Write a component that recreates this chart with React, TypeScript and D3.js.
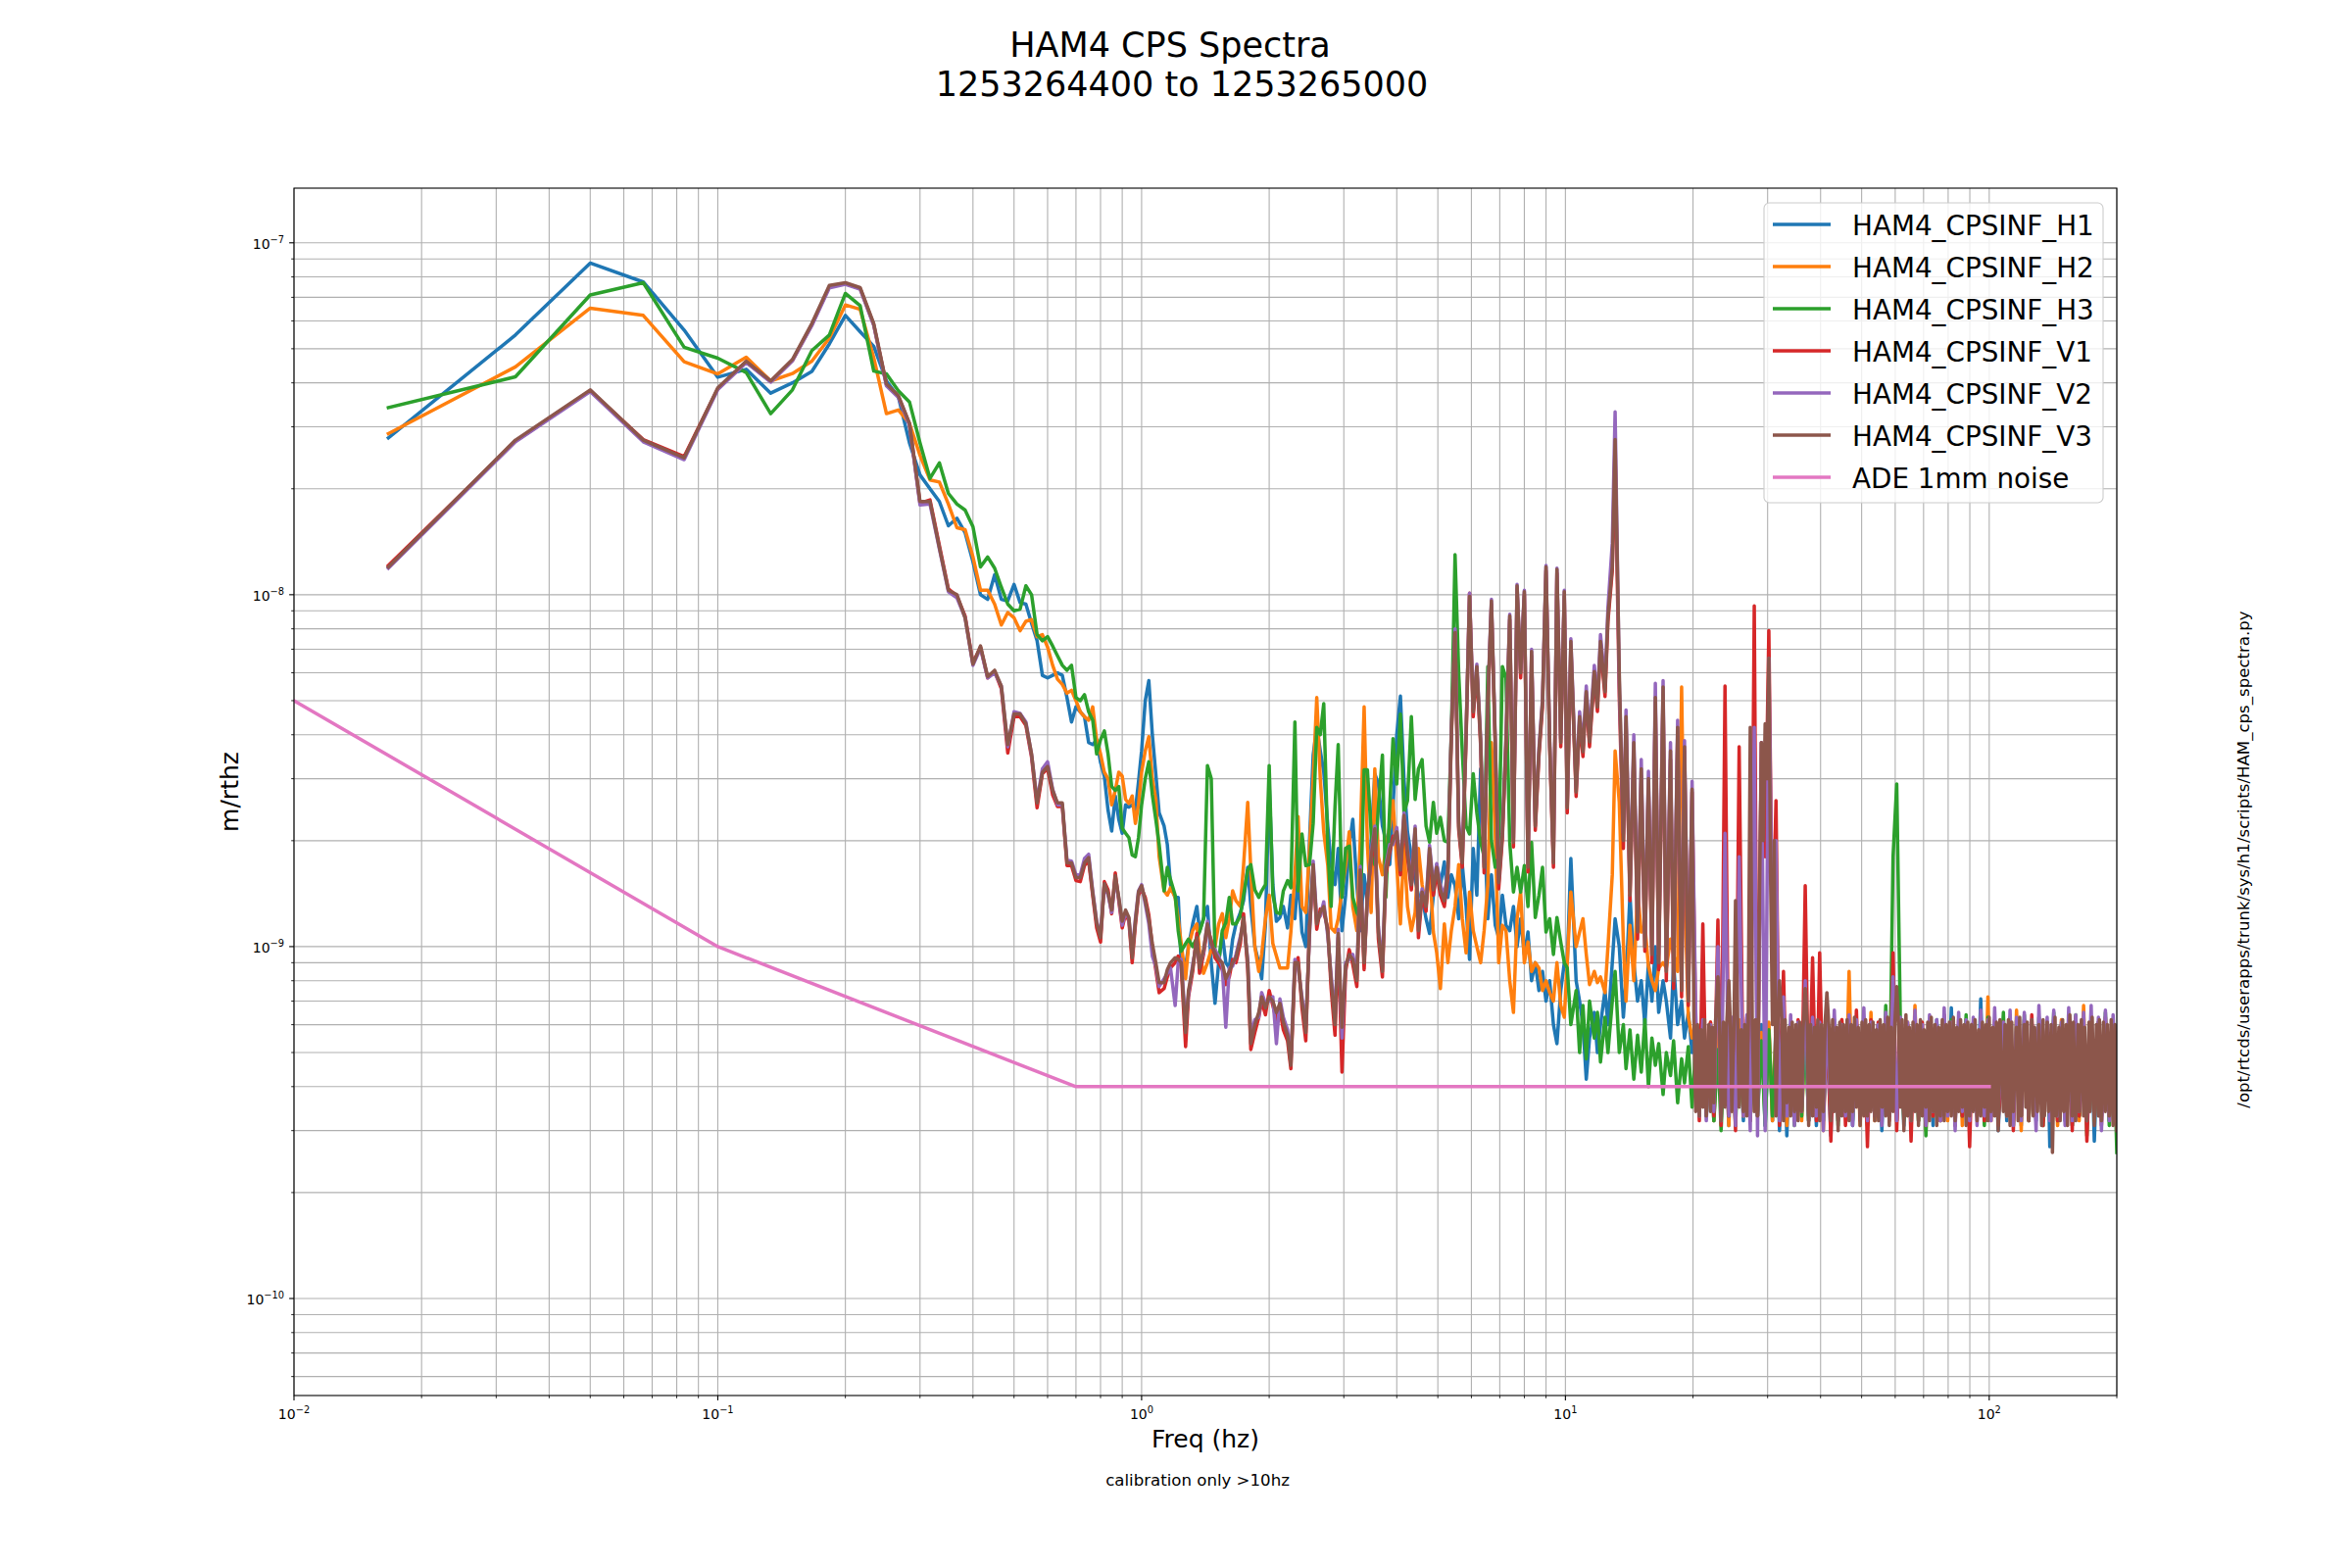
import React from 'react';
import * as d3 from 'd3';

// All spectral values below are listed in units of 1e-10 m/rtHz.
const UNIT = 1e-10;

// Frequency bins (Hz): low band on the 1/60 Hz grid, high band decimated (log-spaced).
const F_LO = [
  0.0167, 0.0333, 0.05, 0.0667, 0.0833, 0.1, 0.1167, 0.1333, 0.15, 0.1667,
  0.1833, 0.2, 0.2167, 0.2333, 0.25, 0.2667, 0.2833, 0.3, 0.3167, 0.3333,
  0.35, 0.3667, 0.3833, 0.4, 0.4167, 0.4333, 0.45, 0.4667, 0.4833, 0.5,
  0.5167, 0.5333, 0.55, 0.5667, 0.5833, 0.6, 0.6167, 0.6333, 0.65, 0.6667,
  0.6833, 0.7, 0.7167, 0.7333, 0.75, 0.7667, 0.7833, 0.8, 0.8167, 0.8333,
  0.85, 0.8667, 0.8833, 0.9, 0.9167, 0.9333, 0.95, 0.9667, 0.9833, 1.0,
];

const F_HI = [
  1.02, 1.04, 1.06, 1.08, 1.10, 1.13, 1.15, 1.17, 1.20, 1.22,
  1.24, 1.27, 1.29, 1.32, 1.35, 1.37, 1.40, 1.43, 1.46, 1.49,
  1.52, 1.55, 1.58, 1.61, 1.64, 1.67, 1.71, 1.74, 1.78, 1.81,
  1.85, 1.89, 1.92, 1.96, 2.00, 2.04, 2.08, 2.12, 2.16, 2.21,
  2.25, 2.30, 2.34, 2.39, 2.44, 2.49, 2.54, 2.59, 2.64, 2.69,
  2.75, 2.80, 2.86, 2.91, 2.97, 3.03, 3.09, 3.15, 3.22, 3.28,
  3.35, 3.41, 3.48, 3.55, 3.62, 3.70, 3.77, 3.85, 3.92, 4.00,
  4.08, 4.16, 4.24, 4.33, 4.42, 4.50, 4.59, 4.69, 4.78, 4.88,
  4.97, 5.07, 5.18, 5.28, 5.38, 5.49, 5.60, 5.71, 5.83, 5.94,
  6.06, 6.18, 6.31, 6.43, 6.56, 6.69, 6.83, 6.96, 7.10, 7.24,
  7.39, 7.54, 7.69, 7.84, 8.00, 8.16, 8.32, 8.49, 8.66, 8.83,
  9.00, 9.18, 9.37, 9.55, 9.75, 9.94, 10.1, 10.3, 10.6, 10.8,
  11.0, 11.2, 11.4, 11.7, 11.9, 12.1, 12.4, 12.6, 12.9, 13.1,
  13.4, 13.7, 13.9, 14.2, 14.5, 14.8, 15.1, 15.4, 15.7, 16.0,
  16.3, 16.6, 17.0, 17.3, 17.7, 18.0, 18.4, 18.8, 19.1, 19.5,
  19.9, 20.3, 20.7, 21.1, 21.5, 22.0, 22.4, 22.9, 23.3, 23.8,
  24.3, 24.7, 25.2, 25.7, 26.3, 26.8, 27.3, 27.9, 28.4, 29.0,
  29.6, 30.2, 30.8, 31.4, 32.0, 32.7, 33.3, 34.0, 34.7, 35.4,
  36.1, 36.8, 37.5, 38.3, 39.1, 39.8, 40.6, 41.4, 42.3, 43.1,
  44.0, 44.9, 45.8, 46.7, 47.6, 48.6, 49.6, 50.6, 51.6, 52.6,
  53.7, 54.7, 55.8, 57.0, 58.1, 59.3, 60.5, 61.7, 62.9, 64.2,
  65.4, 66.8, 68.1, 69.5, 70.9, 72.3, 73.7, 75.2, 76.7, 78.3,
  79.8, 81.4, 83.1, 84.7, 86.4, 88.2, 89.9, 91.7, 93.6, 95.5,
  97.4, 99.3, 101, 103, 105, 108, 110, 112, 114, 116,
  119, 121, 124, 126, 129, 131, 134, 137, 139, 142,
  145, 148, 151, 154, 157, 160, 163, 167, 170, 174,
  177, 181, 184, 188, 192, 196, 200,
];

// Finer bins (Hz) used for the V3 trace above 20 Hz, where its noise floor is densest.
const F_V3_BAND = [
  20.1, 20.3, 20.5, 20.7, 20.9, 21.1, 21.3, 21.5, 21.8, 22.0,
  22.2, 22.4, 22.6, 22.9, 23.1, 23.3, 23.6, 23.8, 24.0, 24.3,
  24.5, 24.7, 25.0, 25.2, 25.5, 25.7, 26.0, 26.3, 26.5, 26.8,
  27.0, 27.3, 27.6, 27.9, 28.1, 28.4, 28.7, 29.0, 29.3, 29.6,
  29.9, 30.2, 30.5, 30.8, 31.1, 31.4, 31.7, 32.0, 32.4, 32.7,
  33.0, 33.3, 33.7, 34.0, 34.3, 34.7, 35.0, 35.4, 35.7, 36.1,
  36.4, 36.8, 37.2, 37.5, 37.9, 38.3, 38.7, 39.1, 39.4, 39.8,
  40.2, 40.6, 41.0, 41.4, 41.9, 42.3, 42.7, 43.1, 43.6, 44.0,
  44.4, 44.9, 45.3, 45.8, 46.2, 46.7, 47.2, 47.6, 48.1, 48.6,
  49.1, 49.6, 50.1, 50.6, 51.1, 51.6, 52.1, 52.6, 53.2, 53.7,
  54.2, 54.8, 55.3, 55.9, 56.4, 57.0, 57.6, 58.1, 58.7, 59.3,
  59.9, 60.5, 61.1, 61.7, 62.3, 62.9, 63.6, 64.2, 64.8, 65.5,
  66.1, 66.8, 67.5, 68.1, 68.8, 69.5, 70.2, 70.9, 71.6, 72.3,
  73.0, 73.8, 74.5, 75.2, 76.0, 76.7, 77.5, 78.3, 79.1, 79.8,
  80.6, 81.4, 82.3, 83.1, 83.9, 84.7, 85.6, 86.4, 87.3, 88.2,
  89.0, 89.9, 90.8, 91.7, 92.6, 93.6, 94.5, 95.5, 96.4, 97.4,
  98.3, 99.3, 100, 101, 102, 103, 104, 105, 106, 108,
  109, 110, 111, 112, 113, 114, 116, 117, 118, 119,
  121, 122, 123, 124, 126, 127, 128, 130, 131, 133,
  134, 135, 137, 138, 140, 141, 143, 144, 146, 147,
  149, 150, 152, 153, 155, 157, 158, 160, 162, 163,
  165, 167, 168, 170, 172, 173, 175, 177, 179, 181,
  182, 184, 186, 188, 190, 192, 194, 196, 198, 200,
];

// ---------- HAM4_CPSINF_H1 ----------
const H1_LO = [
  279, 547, 876, 774, 565, 415, 437, 374, 400, 431,
  516, 622, 559, 508, 405, 365, 270, 219, 200, 184,
  157, 165, 150, 124, 100, 97, 114, 97, 96, 107,
  95, 94, 83, 74, 59, 58, 59, 60, 59, 51,
  43.5, 48, 46.5, 45, 38, 37.5, 38.7, 33.4, 30.5, 24.4,
  21.3, 26.8, 23, 21, 25.3, 24.9, 25.3, 24.4, 29.4, 36,
];
const H1_HI = [
  50, 57, 40, 31, 24, 22, 19.5, 15, 13.8, 13.8,
  9, 8.8, 10, 11.6, 13, 11.1, 12, 13, 9, 6.9,
  9, 10.9, 9, 8.7, 10.5, 11.6, 12.5, 13.5, 16.8, 13,
  10, 9, 8.1, 11.6, 29, 15, 11.8, 12.1, 13, 11.3,
  14, 12, 16, 11, 10, 20, 35, 42, 36, 31.4,
  22, 17.1, 15, 19, 11.1, 14, 19.3, 23, 15, 11.1,
  16, 13.2, 20, 31, 29, 22, 20, 17.1, 25, 40,
  51.5, 30, 21.2, 18, 15.4, 14,
  13.8, 12, 10.9, 14, 17.1, 15, 17.4, 13.8, 16, 14.9,
  12, 17.1, 13, 9.2, 19, 14, 32, 23.6, 12, 16,
  11.5, 10.6, 14, 11.5, 11.1, 13, 10, 12, 9.5, 11,
  8, 9, 7.5, 8.5, 7, 8, 6, 5.3, 7.5, 9,
  9, 17.8, 8, 7, 6, 4.2, 5.5, 6.5, 5, 6,
  7.5, 6, 9, 12, 10, 6.3, 8, 14, 9, 7,
  8, 6, 9, 7, 10, 6.5, 8, 7, 5.5, 9,
  6, 7, 5.5, 6.5, 5,
  5.8, 3.5, 6.0, 3.3, 5.6, 3.2, 6.1, 3.4, 5.9, 3.1,
  6.0, 3.3, 5.7, 3.2, 6.2, 3.4, 5.8, 3.3, 6.0, 3.1,
  5.9, 3.2, 6.1, 3.0, 5.8, 2.9, 6.0, 3.3, 5.7, 3.4,
  6.1, 3.2, 5.9, 3.1, 6.0, 3.3, 5.8, 2.9, 6.2, 3.2,
  5.9, 3.4, 6.0, 3.1, 5.8, 3.3, 6.1, 3.2, 5.9, 3.4,
  6.0, 3.0, 5.8, 3.3, 6.4, 3.2, 6.0, 3.1, 5.9, 3.3,
  6.1, 3.2, 5.8, 3.4, 6.0, 3.1, 6.2, 3.3, 5.9, 3.4,
  6.7, 3.2, 5.8, 3.3, 6.1, 3.1, 5.9, 3.4, 7.1, 3.2,
  6.0, 3.3, 5.9, 3.0, 6.1, 3.2, 5.8, 3.4, 6.0, 3.1,
  6.2, 3.3, 5.9, 3.2, 6.0, 3.4, 5.8, 2.7, 6.1, 3.3,
  5.9, 3.2, 6.0, 3.1, 6.2, 3.3, 5.8, 3.2, 6.0, 2.8,
  6.1, 3.3, 5.9, 3.2, 6.0, 3.1,
];

// ---------- HAM4_CPSINF_H2 ----------
const H2_LO = [
  287, 444, 652, 622, 459, 424, 473, 405, 425, 461,
  536, 666, 647, 472, 327, 335, 307, 249, 212, 209,
  181, 155, 153, 128, 103, 103, 94, 82, 89, 86,
  79, 84, 85, 76, 77, 71, 63, 57.5, 55.6, 52.5,
  53.5, 50, 46.5, 45, 44, 48, 38.7, 35.3, 31.3, 30,
  25.3, 27.8, 31.3, 30.5, 26.2, 25.5, 26.8, 22.4, 25.3, 31.3,
];
const H2_HI = [
  36, 39.5, 30, 26.2, 18, 14.4, 14, 14.7, 13.8, 12,
  10.2, 8.1, 10, 11.1, 11.6, 9.6, 8.4, 9, 9.8, 10,
  11.6, 12.4, 10.6, 12, 14.4, 13.5, 13, 17, 25.7, 16.5,
  10, 8.5, 9.5, 12, 14, 10.2, 9.4, 8.7, 8.7, 8.7,
  11, 16, 23.4, 13, 12.5, 19, 30, 51, 30, 21.2,
  17, 11.3, 11, 12, 14.5, 17, 21.2, 13, 11.1, 20,
  48, 19.5, 12.5, 32, 18, 16, 19, 22, 26, 17.1,
  11.6, 19.5, 13, 11.1, 12.5, 19,
  15, 13, 17, 11, 9.6, 7.6, 11.6, 9, 11.1, 13,
  17.1, 12, 9.6, 14.3, 11.1, 10, 9, 11.1, 15, 38,
  21.2, 9, 11.5, 11.1, 8, 6.5, 12, 14.3, 9, 10.3,
  8.5, 9, 8.7, 7.5, 8, 7.4, 7, 9, 6.8, 6.3,
  9, 14.3, 10, 11, 12, 9.5, 7.8, 8.5, 7.9, 8.2,
  7.4, 10, 16, 36, 25.7, 10.3, 7, 11.5, 8, 14.3,
  11, 11.5, 8.8, 8, 7.5, 8.7, 9, 8.7, 10.5, 9.5,
  8.5, 54.7, 15, 6.3, 5.5,
  6.0, 3.3, 5.8, 3.4, 6.1, 3.2, 5.9, 3.3, 6.0, 3.1,
  5.8, 3.4, 6.2, 3.3, 5.9, 3.2, 6.0, 3.4, 5.7, 3.3,
  6.1, 3.2, 5.9, 3.4, 6.3, 3.1, 5.8, 3.3, 6.0, 3.2,
  5.9, 3.4, 6.1, 3.3, 5.8, 3.0, 6.0, 3.3, 5.9, 3.2,
  6.2, 3.4, 8.5, 3.3, 5.9, 3.1, 6.0, 3.3, 6.5, 3.2,
  5.9, 3.4, 6.1, 3.3, 6.0, 3.2, 5.8, 3.4, 6.1, 3.3,
  6.8, 3.2, 5.9, 3.0, 6.0, 3.3, 5.8, 3.4, 6.1, 3.2,
  6.0, 3.3, 5.9, 3.1, 6.2, 3.4, 5.8, 3.3, 6.0, 3.2,
  7.2, 3.2, 6.1, 3.4, 5.8, 3.3, 6.0, 3.2, 6.6, 3.0,
  5.9, 3.3, 6.1, 3.4, 5.8, 3.2, 6.0, 3.3, 5.9, 3.1,
  6.2, 3.3, 5.8, 3.4, 6.0, 3.2, 6.8, 3.3, 6.1, 3.2,
  5.8, 3.4, 6.0, 3.3, 5.9, 3.2,
];

// ---------- HAM4_CPSINF_H3 ----------
const H3_LO = [
  340, 416, 711, 770, 505, 470, 428, 327, 382, 494,
  547, 718, 663, 432, 424, 380, 353, 270, 214, 237,
  194, 181, 174, 156, 120, 128, 119, 105, 94, 90,
  91, 106, 100, 77, 74, 76, 71.5, 67, 63, 61,
  63, 51, 50, 52, 46.5, 44, 35.3, 38.7, 41, 35.3,
  28.5, 27.8, 28.5, 21.7, 21, 20.4, 18.2, 18, 20.4, 25.3,
];
const H3_HI = [
  30, 33.5, 27, 23, 19.5, 14.4, 16.8, 15.5, 14, 11.1,
  9.7, 10.2, 10.5, 10, 10.6, 11, 12, 32.7, 30, 9.5,
  9, 11.1, 11.7, 13.8, 11.6, 11.6, 12.2, 14, 16.5, 17.1,
  14.5, 13.8, 14.4, 15, 32.7, 14, 12.5, 12.4, 14.4, 15.4,
  14.7, 43.5, 14.4, 20.9, 17, 17.1, 22.4, 42, 40, 49,
  19, 13, 25, 37.5, 13.8, 19, 19.3, 13.8, 12.5, 12,
  31.8, 31.8, 21.2, 17.1, 25, 35, 13.8, 25, 39, 29,
  45.8, 24, 26, 45, 26.2, 32,
  34, 22, 19.8, 25.7, 21, 23.3, 20, 19.8, 40, 130,
  60, 35.8, 22, 20.9, 31, 24, 19.8, 18, 62.5, 20,
  16.8, 18, 62.5, 58, 19.8, 14.3, 16.8, 14.3, 17, 13,
  19.8, 12.1, 14, 16.8, 11, 12, 9.5, 12.1, 10.3, 9,
  8.7, 6, 7.5, 5, 6.8, 4.8, 7, 5.5, 6.5, 4.7,
  6.3, 5, 7, 8.5, 5, 6, 4.5, 5.8, 4.2, 5.6,
  4.4, 6.2, 4, 5.5, 4.6, 5.3, 3.8, 5, 4.3, 5.4,
  3.6, 4.8, 4.1, 5.2, 3.5,
  5.2, 3.4, 5.0, 3.3, 5.4, 3.2, 5.1, 3.0, 5.5, 3.3,
  5.2, 3.1, 5.6, 3.4, 5.3, 3.2, 5.7, 3.3, 5.4, 3.1,
  5.8, 3.3, 5.5, 3.2, 5.9, 3.4, 5.6, 3.1, 6.0, 3.3,
  5.8, 3.2, 6.1, 3.4, 6.4, 3.2, 5.9, 3.3, 6.1, 3.1,
  5.8, 3.4, 6.0, 3.2, 5.9, 3.3, 6.2, 3.1, 5.8, 3.4,
  6.0, 3.3, 6.8, 3.3, 18, 29, 6.1, 3.2, 5.9, 3.4,
  6.0, 3.2, 5.8, 2.9, 6.1, 3.3, 6.0, 3.2, 5.9, 3.4,
  6.2, 3.1, 6.0, 3.3, 6.4, 3.2, 5.9, 3.4, 6.1, 3.1,
  6.3, 3.3, 6.0, 3.2, 6.5, 3.4, 5.9, 3.1, 6.2, 3.3,
  6.4, 3.2, 6.0, 3.4, 6.3, 3.1, 6.1, 3.3, 6.5, 3.2,
  6.0, 3.4, 6.2, 3.1, 6.4, 3.3, 6.0, 2.9, 6.3, 3.2,
  6.1, 3.3, 6.5, 3.1, 6.2, 2.6,
];

// ---------- HAM4_CPSINF_V1 ----------
const V1_LO = [
  121, 273, 380, 276, 247, 385, 458, 404, 463, 585,
  750, 765, 742, 585, 395, 366, 305, 182, 186, 138,
  104, 99, 87, 64, 71, 58, 60.5, 54, 35.5, 45,
  45, 42.5, 34.5, 24.8, 31, 32, 27, 25, 25, 17,
  17, 15.4, 15.3, 17, 17.5, 14, 11.3, 10.3, 15.3, 14.5,
  12.4, 16.2, 13.5, 11.3, 12.4, 11.8, 9.0, 11.5, 14.0, 14.6,
];
const V1_HI = [
  13.8, 12.3, 10, 8.6, 7.4, 7.6, 8.2, 8.7, 9, 9.4,
  8.8, 5.2, 7.2, 8.5, 10.9, 8.4, 9.5, 11.3, 10.4, 9.3,
  9, 8.6, 7.8, 8.2, 9.2, 9, 10.2, 12.4, 8.6, 5.1,
  5.7, 6.3, 7, 6.4, 7.5, 6.8, 6.2, 6.6, 5.8, 5.4,
  4.5, 8.7, 9.3, 6.7, 5.4, 11.4, 16.5, 11.2, 12.8, 12.5,
  11.3, 7.6, 5.6, 10.6, 4.4, 8.5, 9.8, 8.9, 7.7, 16,
  8.6, 14.2, 17.4, 21, 10.5, 8.2, 16, 18.5, 20.6, 20.5,
  16, 23, 18, 14.5, 21, 10.6,
  14, 12.6, 18.4, 14, 16.2, 14, 13, 15.8, 39, 79,
  21.5, 16.8, 39, 101, 45, 61, 37, 16.2, 48, 94,
  37, 14.6, 20.3, 37, 85, 19.2, 104, 58, 100, 16.3,
  67, 21.4, 34.7, 48, 117, 37, 16.8, 115, 37, 99,
  24, 71, 26.7, 43.6, 34.7, 51.4, 37, 58.7, 46.6, 71.5,
  51.4, 84, 117, 250, 51.4, 19, 43, 13.5, 36, 10.5,
  30.5, 9.7, 28.5, 9, 49.5, 8.6, 52, 8, 34, 7.6,
  40, 7.2, 35.9, 6.8, 27.5,
  5.9, 3.2, 11.6, 3.4, 6.1, 3.3, 11.9, 3.1, 55, 3.3,
  6.2, 3.0, 37, 3.4, 6.3, 3.2, 93, 3.3, 38, 18,
  79, 10, 26, 3.1, 8.5, 3.4, 6.0, 3.2, 6.2, 3.5,
  14.9, 3.3, 9.3, 3.2, 9.6, 3.4, 6.3, 2.8, 6.0, 3.3,
  6.2, 3.1, 5.9, 3.4, 6.6, 3.2, 6.0, 2.7, 6.2, 3.3,
  6.1, 3.4, 6.3, 3.2, 9.6, 3.0, 6.2, 3.3, 6.0, 2.8,
  6.3, 3.4, 6.1, 3.1, 6.2, 3.3, 6.0, 3.2, 6.4, 3.4,
  5.9, 3.1, 6.2, 3.3, 6.0, 2.7, 6.1, 3.4, 6.3, 3.2,
  6.0, 3.3, 6.2, 3.1, 6.1, 3.4, 6.3, 3.0, 5.9, 3.3,
  6.2, 3.2, 6.4, 3.4, 6.0, 3.1, 6.1, 3.3, 6.2, 3.2,
  6.0, 3.4, 6.1, 3.0, 6.3, 3.3, 6.0, 2.8, 6.2, 3.4,
  6.1, 3.1, 6.3, 3.3, 6.0, 3.2,
];

// ---------- HAM4_CPSINF_V2 ----------
const V2_LO = [
  119, 272, 378, 272, 242, 383, 457, 402, 462, 582,
  745, 762, 738, 583, 392, 364, 303, 180, 181, 135,
  102, 98, 86, 63, 70.5, 58, 60, 55, 37, 46.5,
  46, 43.5, 35, 26, 32, 33.5, 28, 25.3, 25.3, 17.6,
  17.5, 16, 16, 17.8, 18.3, 14.4, 11.8, 10.8, 15, 14,
  12.5, 15.6, 13.7, 11.5, 12.5, 12, 9.6, 12, 14.4, 15,
];
const V2_HI = [
  13.2, 11.6, 9.4, 8.8, 7.7, 8.1, 8.4, 8.7, 6.8, 9,
  9.2, 6, 7.3, 8.9, 10.3, 8.9, 9.6, 11.8, 10, 9.8,
  9.4, 8.8, 5.9, 8.7, 8.8, 9.5, 10.7, 11.8, 9.2, 5.6,
  6.2, 6.3, 7.4, 6.9, 7, 7.2, 5.3, 7.1, 6.3, 5.8,
  4.8, 9.2, 8.7, 7.2, 6, 10.8, 17.5, 11.9, 12.2, 13.4,
  10.7, 8.3, 6.3, 11.2, 5.5, 9, 9.2, 9.5, 8.3, 16.9,
  9.3, 13.4, 18.5, 22, 11.4, 8.8, 17, 19.5, 19.5, 21.8,
  17, 24, 19, 15.5, 22, 11.5,
  14.6, 13.4, 19.4, 15, 17.2, 15, 13.9, 16.7, 41, 80,
  22.6, 17.8, 41, 101, 47.5, 63.5, 39, 17.3, 50.5, 97,
  39, 15.6, 21.4, 39, 88, 20.3, 107, 61, 103, 17.3,
  70, 22.6, 36.6, 50.5, 121, 39, 17.8, 119, 39, 103,
  25.5, 75, 28.3, 46.5, 37, 55, 40, 63, 50, 77,
  56, 92, 140, 331, 56, 21, 47, 14.7, 40, 11.5,
  34, 10.5, 31.5, 10, 56, 9.5, 57, 9, 38, 8.5,
  44, 8, 38.5, 7.5, 29.5,
  6.5, 3.3, 6.2, 3.2, 6.0, 3.4, 10, 3.2, 21, 3.3,
  6.3, 3.1, 18, 3.3, 6.4, 3.0, 42, 2.9, 38, 3.0,
  66, 10, 20, 3.2, 7.2, 3.3, 6.4, 3.1, 6.1, 3.4,
  8.0, 3.2, 6.3, 3.3, 6.1, 3.0, 6.2, 3.4, 6.6, 3.2,
  6.0, 3.3, 6.4, 3.1, 6.2, 3.4, 6.7, 3.2, 6.1, 3.3,
  6.0, 3.1, 6.5, 3.3, 8.2, 3.2, 6.3, 3.4, 6.1, 3.2,
  6.6, 3.3, 6.0, 3.1, 6.4, 3.4, 6.2, 3.2, 6.7, 3.3,
  6.1, 3.0, 6.5, 3.4, 6.2, 3.2, 6.3, 3.1, 6.6, 3.3,
  6.2, 3.2, 6.7, 3.4, 6.1, 3.3, 6.6, 3.1, 6.3, 3.2,
  6.5, 3.3, 6.2, 3.0, 6.8, 3.4, 6.3, 3.2, 6.6, 3.3,
  6.1, 3.1, 6.7, 3.2, 6.4, 3.4, 6.5, 3.2, 6.8, 3.3,
  6.3, 3.0, 6.6, 3.2, 6.4, 3.3,
];

// ---------- HAM4_CPSINF_V3 ----------
const V3_LO = [
  120, 275, 382, 275, 245, 387, 461, 405, 466, 590,
  757, 770, 746, 590, 397, 368, 307, 184, 184, 136,
  103, 100, 86, 63.5, 71.5, 58.5, 61, 55, 37.5, 45.8,
  45.8, 43, 35.3, 25.6, 31.3, 32.5, 27.8, 25.6, 25.6, 17.3,
  17.3, 15.7, 15.7, 17.3, 17.9, 14.2, 11.7, 10.6, 15.1, 14.2,
  12.7, 15.9, 13.8, 11.8, 12.7, 12.1, 9.3, 11.8, 14.3, 14.9,
];
// V3 on F_HI up to 19.9 Hz
const V3_HI = [
  13.5, 12, 10.2, 9, 7.9, 7.9, 8.6, 9, 9.3, 9.2,
  9, 5.7, 7.5, 8.7, 10.6, 8.7, 9.8, 11.6, 10.2, 9.6,
  9.2, 9, 8.1, 8.5, 9, 9.3, 10.5, 12.1, 9, 5.3,
  6, 6.5, 7.2, 6.7, 7.2, 7, 6.5, 6.9, 6.1, 5.6,
  4.6, 9, 9, 7, 5.7, 11.1, 17.1, 11.6, 12.5, 13,
  11, 8, 6, 10.9, 5.9, 8.8, 9.5, 9.2, 8, 16.5,
  9, 13.8, 18, 21.6, 11, 8.5, 16.5, 19, 20, 21.2,
  16.5, 23.6, 18.6, 15, 21.6, 11.1,
  14.3, 13, 19, 14.5, 16.8, 14.5, 13.5, 16.3, 40, 78,
  22, 17.3, 40, 99, 46.5, 62.5, 38.2, 16.8, 49.6, 96,
  38.2, 15.2, 20.9, 38.2, 87, 19.8, 106, 60, 102, 16.8,
  69, 22, 35.8, 49.6, 120, 38.2, 17.3, 118, 38, 102,
  24.8, 73.7, 27.5, 45, 35.8, 53, 38.2, 60.5, 48, 73.7,
  53, 87, 120, 276, 60, 20, 45, 14, 38, 11,
  32, 10, 30, 9.5, 51, 9, 54.7, 8.5, 36, 8,
  42, 7.5, 37, 7, 28,
];
// V3 on F_V3_BAND (20.1 - 200 Hz)
const V3_BAND = [
  6.3, 3.4, 6.0, 3.3, 5.8, 3.5, 6.2, 3.3, 6.0, 3.4,
  5.9, 3.6, 6.1, 8.2, 6.0, 3.2, 6.1, 3.5, 5.9, 8.0,
  6.0, 3.4, 6.2, 13.5, 6.1, 3.5, 5.8, 3.4, 6.0, 3.3,
  6.1, 42, 6.0, 3.4, 6.2, 3.3, 14, 38, 20, 43,
  30, 66, 15, 6.0, 20, 3.3, 6.0, 8.0, 6.2, 3.2,
  6.2, 3.6, 5.9, 3.3, 6.1, 3.4, 6.0, 3.2, 6.1, 3.4,
  5.9, 7.6, 6.1, 3.1, 6.0, 3.3, 5.9, 3.5, 6.2, 3.2,
  6.0, 3.4, 6.1, 7.4, 5.8, 3.2, 6.2, 3.4, 5.9, 3.0,
  6.1, 3.3, 6.0, 3.4, 6.2, 3.2, 6.0, 3.4, 6.3, 3.5,
  5.9, 3.1, 6.1, 3.3, 6.2, 3.3, 6.0, 3.4, 6.1, 3.2,
  5.8, 3.2, 6.2, 3.5, 6.0, 3.3, 6.3, 3.1, 5.9, 3.4,
  6.1, 7.7, 6.0, 3.5, 6.2, 3.0, 6.4, 3.3, 5.9, 3.2,
  6.1, 3.4, 6.0, 3.1, 6.2, 3.3, 5.8, 3.5, 6.1, 3.2,
  6.3, 3.4, 6.0, 3.1, 5.9, 3.3, 6.2, 3.2, 6.0, 3.4,
  6.1, 3.3, 6.3, 3.2, 5.9, 3.4, 6.2, 3.5, 6.0, 3.1,
  6.1, 3.3, 6.0, 3.4, 6.2, 3.2, 5.8, 3.3, 6.1, 3.5,
  6.0, 3.2, 6.3, 3.4, 5.9, 3.3, 6.1, 3.0, 6.2, 3.4,
  6.0, 3.3, 6.2, 3.1, 6.1, 3.4, 5.9, 3.2, 6.3, 3.3,
  6.0, 3.5, 6.1, 3.2, 6.2, 3.3, 5.9, 3.4, 6.0, 3.1,
  6.2, 3.3, 6.1, 3.4, 6.0, 2.6, 6.3, 3.3, 5.9, 3.2,
  6.2, 3.4, 6.0, 3.1, 6.4, 3.3, 6.1, 3.2, 6.0, 3.4,
  6.2, 3.3, 5.9, 3.2, 6.1, 3.4, 6.3, 3.1, 6.0, 3.3,
  6.2, 3.2, 6.1, 3.4, 6.0, 3.3, 6.2, 3.1, 6.0, 3.0,
];

// ---------- ADE 1mm noise ----------
const ADE_F = [0.01, 0.1, 0.7, 100];
const ADE_V = [50, 10, 4, 4];

type Series = {
  name: string;
  color: string;
  lo: number[];
  hi: number[];
  bandF?: number[];
  band?: number[];
};

const SERIES: Series[] = [
  { name: 'HAM4_CPSINF_H1', color: '#1f77b4', lo: H1_LO, hi: H1_HI },
  { name: 'HAM4_CPSINF_H2', color: '#ff7f0e', lo: H2_LO, hi: H2_HI },
  { name: 'HAM4_CPSINF_H3', color: '#2ca02c', lo: H3_LO, hi: H3_HI },
  { name: 'HAM4_CPSINF_V1', color: '#d62728', lo: V1_LO, hi: V1_HI },
  { name: 'HAM4_CPSINF_V2', color: '#9467bd', lo: V2_LO, hi: V2_HI },
  { name: 'HAM4_CPSINF_V3', color: '#8c564b', lo: V3_LO, hi: V3_HI, bandF: F_V3_BAND, band: V3_BAND },
];
const ADE = { name: 'ADE 1mm noise', color: '#e377c2' };

const X_MAJOR = [0.01, 0.1, 1, 10, 100];
const X_MAJOR_EXP = ['\u22122', '\u22121', '0', '1', '2'];
const Y_MAJOR = [1e-10, 1e-9, 1e-8, 1e-7];
const Y_MAJOR_EXP = ['\u221210', '\u22129', '\u22128', '\u22127'];

const FONT = "'DejaVu Sans', 'Liberation Sans', sans-serif";

export default function App() {
  const W = 2400;
  const H = 1600;
  const L = 300, R = 2160, T = 192, B = 1424;
  const xDom: [number, number] = [0.01, 200];
  const yDom: [number, number] = [5.3e-11, 1.43e-7];
  const x = d3.scaleLog().domain(xDom).range([L, R]);
  const y = d3.scaleLog().domain(yDom).range([B, T]);
  const line = d3
    .line<[number, number]>()
    .x((d) => x(d[0]))
    .y((d) => y(d[1]));

  const toPts = (s: Series): [number, number][] => {
    const a: [number, number][] = [];
    F_LO.forEach((f, i) => {
      if (s.lo[i] != null) a.push([f, s.lo[i] * UNIT]);
    });
    F_HI.forEach((f, i) => {
      if (s.hi[i] != null) a.push([f, s.hi[i] * UNIT]);
    });
    if (s.bandF && s.band) {
      s.bandF.forEach((f, i) => {
        if (s.band![i] != null) a.push([f, s.band![i] * UNIT]);
      });
    }
    return a;
  };

  const adePts: [number, number][] = ADE_F.map((f, i) => [f, ADE_V[i] * UNIT]);

  const xMinor: number[] = [];
  [0.01, 0.1, 1, 10, 100].forEach((d) => {
    for (let m = 2; m <= 9; m++) {
      const v = m * d;
      if (v <= xDom[1] * 1.0001) xMinor.push(v);
    }
  });
  const yMinor: number[] = [];
  [1e-11, 1e-10, 1e-9, 1e-8, 1e-7].forEach((d) => {
    for (let m = 2; m <= 9; m++) {
      const v = m * d;
      if (v >= yDom[0] && v <= yDom[1]) yMinor.push(v);
    }
  });

  const gridColor = '#b0b0b0';
  const lw = 3.5;

  const legendX = 1800, legendY = 207, legendW = 346, legendH = 306;
  const rowY0 = 229, rowDy = 43;
  const allLegend = [...SERIES.map((s) => ({ name: s.name, color: s.color })), ADE];

  return (
    <svg
      width={W}
      height={H}
      viewBox={`0 0 ${W} ${H}`}
      style={{ position: 'absolute', left: 0, top: 0, background: '#fff' }}
      fontFamily={FONT}
    >
      <rect x={0} y={0} width={W} height={H} fill="#fff" />
      <defs>
        <clipPath id="plotClip">
          <rect x={L} y={T} width={R - L} height={B - T} />
        </clipPath>
      </defs>

      <g stroke={gridColor} strokeWidth={1.1}>
        {[...X_MAJOR, ...xMinor].map((v, i) => (
          <line key={'gx' + i} x1={x(v)} x2={x(v)} y1={T} y2={B} />
        ))}
        {[...Y_MAJOR, ...yMinor].map((v, i) => (
          <line key={'gy' + i} x1={L} x2={R} y1={y(v)} y2={y(v)} />
        ))}
      </g>

      <g clipPath="url(#plotClip)" fill="none" strokeLinejoin="round" strokeLinecap="square">
        {SERIES.map((s) => (
          <path key={s.name} d={line(toPts(s)) || ''} stroke={s.color} strokeWidth={lw} />
        ))}
        <path d={line(adePts) || ''} stroke={ADE.color} strokeWidth={lw} />
      </g>

      <rect x={L} y={T} width={R - L} height={B - T} fill="none" stroke="#000" strokeWidth={1.1} />

      <g stroke="#000">
        {X_MAJOR.map((v, i) => (
          <line key={'tx' + i} x1={x(v)} x2={x(v)} y1={B} y2={B + 4.9} strokeWidth={1.1} />
        ))}
        {xMinor.map((v, i) => (
          <line key={'txm' + i} x1={x(v)} x2={x(v)} y1={B} y2={B + 2.8} strokeWidth={0.85} />
        ))}
        {Y_MAJOR.map((v, i) => (
          <line key={'ty' + i} x1={L - 4.9} x2={L} y1={y(v)} y2={y(v)} strokeWidth={1.1} />
        ))}
        {yMinor.map((v, i) => (
          <line key={'tym' + i} x1={L - 2.8} x2={L} y1={y(v)} y2={y(v)} strokeWidth={0.85} />
        ))}
      </g>

      <g fill="#000">
        {X_MAJOR.map((v, i) => (
          <text key={'lx' + i} x={x(v)} y={1448} fontSize={14} textAnchor="middle">
            10
            <tspan fontSize={9.8} dy={-6}>
              {X_MAJOR_EXP[i]}
            </tspan>
          </text>
        ))}
        {Y_MAJOR.map((v, i) => (
          <text key={'ly' + i} x={290} y={y(v) + 6.5} fontSize={14} textAnchor="end">
            10
            <tspan fontSize={9.8} dy={-6}>
              {Y_MAJOR_EXP[i]}
            </tspan>
          </text>
        ))}
      </g>

      <text x={1194} y={58} fontSize={35} textAnchor="middle" fill="#000">
        HAM4 CPS Spectra
      </text>
      <text x={1206} y={98} fontSize={35} textAnchor="middle" fill="#000">
        1253264400 to 1253265000
      </text>
      <text x={1230} y={1477} fontSize={25} textAnchor="middle" fill="#000">
        Freq (hz)
      </text>
      <text transform={`translate(243, 808) rotate(-90)`} fontSize={25} textAnchor="middle" fill="#000">
        m/rthz
      </text>
      <text x={1222} y={1516} fontSize={16.6} textAnchor="middle" fill="#000">
        calibration only &gt;10hz
      </text>
      <text transform={`translate(2295, 877) rotate(-90)`} fontSize={16.6} textAnchor="middle" fill="#000">
        /opt/rtcds/userapps/trunk/sys/h1/scripts/HAM_cps_spectra.py
      </text>

      <g>
        <rect
          x={legendX}
          y={legendY}
          width={legendW}
          height={legendH}
          rx={5.5}
          ry={5.5}
          fill="#fff"
          fillOpacity={0.8}
          stroke="#cccccc"
          strokeWidth={1.1}
        />
        {allLegend.map((s, i) => (
          <g key={'lg' + i}>
            <line
              x1={1809}
              x2={1868}
              y1={rowY0 + i * rowDy}
              y2={rowY0 + i * rowDy}
              stroke={s.color}
              strokeWidth={lw}
            />
            <text x={1890} y={rowY0 + i * rowDy + 10.5} fontSize={27.8} fill="#000">
              {s.name}
            </text>
          </g>
        ))}
      </g>
    </svg>
  );
}
